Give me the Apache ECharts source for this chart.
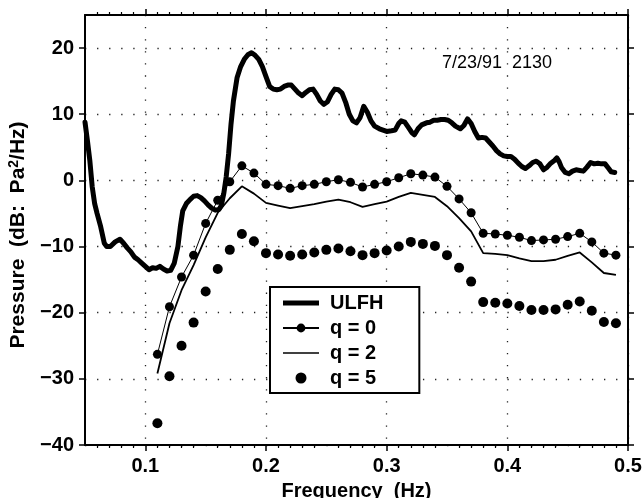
<!DOCTYPE html>
<html><head><meta charset="utf-8">
<script src="https://cdn.jsdelivr.net/npm/echarts@6/dist/echarts.min.js"></script>
<style>html,body{margin:0;padding:0;background:#fff}#chart{width:644px;height:498px}</style>
</head><body><div id="chart"></div>
<script>
// ---- data ----
const freqs = [0.11,0.12,0.13,0.14,0.15,0.16,0.17,0.18,0.19,0.20,0.21,0.22,0.23,0.24,0.25,0.26,0.27,0.28,0.29,0.30,
  0.31,0.32,0.33,0.34,0.35,0.36,0.37,0.38,0.39,0.40,0.41,0.42,0.43,0.44,0.45,0.46,0.47,0.48,0.49];
const q0 = [-26.3,-19.1,-14.6,-11.3,-6.5,-3.0,-0.2,2.2,1.1,-0.6,-0.8,-1.2,-0.8,-0.6,-0.2,0.1,-0.3,-1.0,-0.6,-0.2,
  0.4,1.0,0.8,0.5,-0.9,-2.8,-4.9,-8.0,-8.1,-8.3,-8.6,-9.1,-9.0,-8.9,-8.5,-8.0,-9.3,-11.0,-11.3];
const q2 = [-29.2,-21.6,-16.6,-12.8,-8.6,-4.9,-2.7,-0.9,-2.0,-3.4,-3.8,-4.2,-3.9,-3.6,-3.2,-2.9,-3.3,-4.0,-3.6,-3.2,
  -2.5,-1.9,-2.2,-2.5,-3.9,-5.7,-7.7,-11.0,-11.1,-11.3,-11.8,-12.2,-12.2,-12.0,-11.4,-10.9,-12.4,-14.0,-14.3];
const q5 = [-36.7,-29.6,-25.0,-21.5,-16.8,-13.4,-10.5,-8.1,-9.2,-11.0,-11.2,-11.4,-11.2,-10.9,-10.5,-10.3,-10.7,-11.3,-11.0,-10.6,
  -10.0,-9.3,-9.6,-9.9,-11.3,-13.2,-15.3,-18.4,-18.5,-18.6,-19.0,-19.6,-19.6,-19.5,-18.8,-18.3,-19.7,-21.4,-21.6];
const ulfhFreq = [0.050,0.052,0.054,0.056,0.058,0.060,0.063,0.066,0.068,0.071,0.075,0.079,0.082,0.085,0.088,0.091,0.094,0.097,
  0.100,0.103,0.106,0.109,0.112,0.115,0.118,0.121,0.124,0.127,0.129,0.131,0.134,0.137,0.140,0.143,0.146,0.149,0.152,0.155,0.158,
  0.161,0.163,0.165,0.167,0.169,0.171,0.173,0.176,0.179,0.182,0.185,0.188,0.191,0.194,0.197,0.200,0.203,0.206,0.209,0.212,0.215,
  0.218,0.221,0.224,0.227,0.230,0.233,0.236,0.239,0.242,0.245,0.248,0.251,0.254,0.257,0.260,0.263,0.266,0.269,0.272,0.275,0.278,
  0.281,0.284,0.287,0.290,0.294,0.297,0.300,0.304,0.307,0.310,0.312,0.315,0.318,0.321,0.323,0.326,0.329,0.333,0.336,0.339,0.342,
  0.345,0.348,0.351,0.354,0.357,0.361,0.364,0.367,0.370,0.373,0.376,0.379,0.382,0.385,0.388,0.391,0.394,0.397,0.400,0.403,0.406,
  0.409,0.412,0.415,0.418,0.421,0.424,0.427,0.430,0.433,0.436,0.439,0.441,0.443,0.445,0.448,0.451,0.454,0.457,0.460,0.463,0.466,
  0.469,0.472,0.475,0.478,0.481,0.484,0.486,0.489];
const ulfhDb = [8.8,6.0,3.0,-1.0,-3.5,-5.0,-7.0,-9.5,-10.0,-10.0,-9.3,-8.9,-9.5,-10.2,-10.8,-11.6,-12.0,-12.5,
  -13.0,-13.5,-13.2,-13.3,-13.0,-13.4,-13.7,-13.6,-12.5,-10.0,-7.0,-4.6,-3.5,-2.9,-2.4,-2.3,-2.6,-3.1,-3.7,-4.2,-4.5,
  -4.4,-3.8,-2.0,0.5,4.0,8.5,12.0,15.5,17.2,18.3,19.0,19.3,18.9,18.3,17.2,15.7,14.2,13.8,13.7,13.8,14.2,
  14.4,14.4,13.8,13.2,12.8,13.3,13.7,13.8,13.0,12.0,11.5,11.9,13.0,13.8,13.7,13.2,11.8,10.0,9.0,8.7,9.5,
  11.2,10.3,9.0,8.2,7.8,7.6,7.4,7.5,7.6,8.6,9.0,8.8,8.0,7.2,6.9,7.8,8.4,8.7,8.8,9.1,9.1,
  9.2,9.2,9.1,8.7,8.2,7.8,8.3,9.3,8.6,7.4,6.4,6.5,6.4,5.8,5.2,4.5,4.0,3.7,3.6,3.6,3.2,
  2.6,2.1,1.8,2.2,2.7,2.9,2.5,1.6,2.0,2.6,3.0,3.4,2.8,1.9,1.2,1.0,1.4,1.6,1.5,1.4,2.0,
  2.7,2.5,2.6,2.5,2.5,1.8,1.3,1.2];
const xTickValues = [0.1,0.2,0.3,0.4,0.5];
const yTickValues = [-40,-30,-20,-10,0,10,20];
const seriesNames = ['ULFH','q = 0','q = 2','q = 5'];
const stamp = '7/23/91  2130';

// ---- chart ----
const FONT = '"Liberation Sans", Arial, Helvetica, sans-serif';
const chart = echarts.init(document.getElementById('chart'), null, {renderer:'canvas'});
function pairs(xs, ys){ return xs.map((x,i)=>[x, ys[i]]); }
const gridLine = {show:true, lineStyle:{color:'#222', width:1.3, type:[1.3, 10.77]}};
function xAxis(pos, main){ return {
  type:'value', position:pos, min:0.05, max:0.5, interval:0.05,
  name: main ? 'Frequency  (Hz)' : '', nameLocation:'middle', nameGap:36,
  nameTextStyle:{fontSize:20, fontWeight:'bold', fontFamily:FONT, color:'#000'},
  axisLine:{show:true, onZero:false, lineStyle:{color:'#000', width:2}},
  axisTick:{show:true, inside:false, length:6, customValues:xTickValues, lineStyle:{color:'#000', width:1.5}},
  minorTick:{show:true, splitNumber:5, length:3, lineStyle:{color:'#000', width:1.2}},
  axisLabel:{show:main, customValues:xTickValues, margin:11, color:'#000', fontSize:20, fontWeight:'bold', fontFamily:FONT,
    formatter: v => v.toFixed(1)},
  splitLine: main ? gridLine : {show:false},
  minorSplitLine:{show:false}
}; }
function yAxis(pos, main){ return {
  type:'value', position:pos, min:-40, max:25, interval:10,
  name: main ? 'Pressure  (dB:  Pa{sup|2}/Hz)' : '', nameLocation:'middle', nameGap:44,
  nameTextStyle:{fontSize:21, fontWeight:'bold', fontFamily:FONT, color:'#000', lineHeight:22, padding:[0,10,0,0],
    rich:{sup:{fontSize:14, fontWeight:'bold', fontFamily:FONT, color:'#000', lineHeight:12, verticalAlign:'top'}}},
  axisLine:{show:true, onZero:false, lineStyle:{color:'#000', width:2}},
  axisTick:{show:true, inside:false, length:6, customValues:yTickValues, lineStyle:{color:'#000', width:1.5}},
  minorTick:{show:false},
  axisLabel:{show:main, customValues:yTickValues, margin:11, color:'#000', fontSize:20, fontWeight:'bold', fontFamily:FONT,
    formatter: v => v < 0 ? '\u2212' + (-v) : String(v)},
  splitLine: main ? gridLine : {show:false}
}; }
const black = {color:'#000', opacity:1};
chart.setOption({
  animation:false,
  backgroundColor:'#fff',
  grid:{left:85, top:15, right:16, bottom:53, containLabel:false, outerBoundsMode:'none'},
  title:{text:stamp, left:437, top:49, textStyle:{fontSize:18, fontWeight:'normal', fontFamily:FONT, color:'#000'}},
  legend:{show:true, orient:'vertical', left:270, top:287, padding:[6,36,5,12], itemGap:5, itemWidth:36, itemHeight:11,
    borderColor:'#000', borderWidth:2, backgroundColor:'#fff', selectedMode:false,
    textStyle:{fontSize:20, fontWeight:'bold', fontFamily:FONT, color:'#000', lineHeight:20, padding:[0,0,0,6]},
    data:[
      {name:seriesNames[0], icon:'path://M0,3H36V8H0Z', itemStyle:black},
      {name:seriesNames[1]},
      {name:seriesNames[2], icon:'path://M0,0H36V1.6H0Z', itemStyle:black},
      {name:seriesNames[3], icon:'circle', itemStyle:black}
    ]},
  xAxis:[xAxis('bottom', true), xAxis('top', false)],
  yAxis:[yAxis('left', true), yAxis('right', false)],
  series:[
    {name:seriesNames[0], type:'line', data:pairs(ulfhFreq, ulfhDb), symbol:'none', z:4,
      lineStyle:{color:'#000', width:5, join:'round', cap:'round'}, itemStyle:black},
    {name:seriesNames[1], type:'line', data:pairs(freqs, q0), symbol:'circle', symbolSize:9, showAllSymbol:true, z:3,
      lineStyle:{color:'#000', width:1}, itemStyle:black},
    {name:seriesNames[2], type:'line', data:pairs(freqs, q2), symbol:'none', z:3,
      lineStyle:{color:'#000', width:1.8}, itemStyle:black},
    {name:seriesNames[3], type:'scatter', data:pairs(freqs, q5), symbol:'circle', symbolSize:10, z:3,
      itemStyle:black}
  ]
});
</script></body></html>
